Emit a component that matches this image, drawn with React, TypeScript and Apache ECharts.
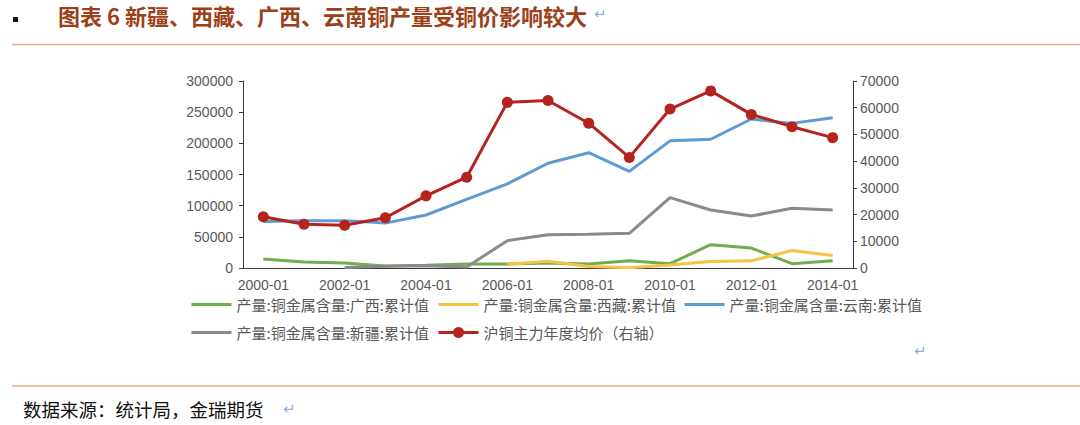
import React, { useEffect, useRef } from 'react'
import * as echarts from 'echarts'

const categories = [
  '2000-01', '2001-01', '2002-01', '2003-01', '2004-01', '2005-01', '2006-01', '2007-01',
  '2008-01', '2009-01', '2010-01', '2011-01', '2012-01', '2013-01', '2014-01',
]

// 产量:铜金属含量 (吨, 左轴)
const guangxi = [14400, 9600, 8000, 3200, 4300, 6400, 6400, 8000, 6400, 11700, 6900, 37400, 32000, 6900, 11700]
const tibet = [null, null, null, null, null, null, 6000, 11000, 2500, 300, 5000, 10500, 11500, 28000, 20000]
const yunnan = [74500, 76000, 76000, 72000, 85000, 110000, 135000, 168000, 185000, 155000, 204000, 206500, 239000, 232000, 241000]
const xinjiang = [null, null, 1000, 2700, 3700, 1600, 43800, 53500, 54000, 55600, 112800, 93000, 83400, 95700, 93000]

// 沪铜主力年度均价 (右轴)
const copperPrice = [19200, 16400, 16000, 18800, 27000, 34000, 62000, 62700, 54200, 41400, 59500, 66300, 57500, 52900, 48800]

const seriesNames = [
  '产量:铜金属含量:广西:累计值',
  '产量:铜金属含量:西藏:累计值',
  '产量:铜金属含量:云南:累计值',
  '产量:铜金属含量:新疆:累计值',
  '沪铜主力年度均价（右轴）',
]

const titleText = '图表 6 新疆、西藏、广西、云南铜产量受铜价影响较大'
const sourceText = '数据来源：统计局，金瑞期货'

const axisColor = '#3a3a3a'
const labelColor = '#595959'
const priceColor = '#B5231D'
const cjk = 'Noto Sans CJK SC'

// one legend component per item so each can sit where the reference puts it
const legendAt = (name: string, left: number, top: number, symbolColor: string | null) => ({
  data: [name],
  left,
  top,
  padding: 0,
  itemWidth: 40,
  itemHeight: 14,
  itemGap: 0,
  itemStyle: symbolColor ? { color: symbolColor } : { opacity: 0 },
  lineStyle: { width: 3 },
  textStyle: { color: labelColor, fontSize: 15, fontFamily: cjk },
})

const lineSeries = (name: string, data: (number | null)[], color: string) => ({
  name,
  type: 'line',
  data,
  yAxisIndex: 0,
  symbol: 'none',
  lineStyle: { color, width: 3 },
  itemStyle: { color },
})

const returnMark = (x: number, y: number) => ({
  type: 'text',
  x,
  y,
  style: { text: '↵', fontSize: 15, fontFamily: 'DejaVu Sans', fill: '#8FB0D8', verticalAlign: 'middle' },
})

const App = () => {
  const chartRef = useRef<HTMLDivElement>(null)

  useEffect(() => {
    if (!chartRef.current) return
    const chart = echarts.init(chartRef.current, null, { renderer: 'svg' })

    const option = {
      animation: false,
      backgroundColor: '#ffffff',
      grid: { left: 243, right: 227, top: 81, bottom: 157, containLabel: false },
      legend: [
        legendAt(seriesNames[0], 190, 297, null),
        legendAt(seriesNames[1], 437, 297, null),
        legendAt(seriesNames[2], 683, 297, null),
        legendAt(seriesNames[3], 190, 325, null),
        legendAt(seriesNames[4], 437, 325, priceColor),
      ],
      xAxis: {
        type: 'category',
        data: categories,
        boundaryGap: true,
        axisLine: { lineStyle: { color: axisColor, width: 1 } },
        axisTick: { interval: 1, length: 5, lineStyle: { color: axisColor } },
        axisLabel: {
          interval: 1,
          margin: 10,
          color: labelColor,
          fontSize: 14,
          fontFamily: 'Liberation Sans',
        },
      },
      yAxis: [
        {
          type: 'value',
          min: 0,
          max: 300000,
          interval: 50000,
          splitLine: { show: false },
          axisLine: { show: true, lineStyle: { color: axisColor, width: 1 } },
          axisTick: { show: true, length: 4, lineStyle: { color: axisColor } },
          axisLabel: {
            margin: 10,
            color: labelColor,
            fontSize: 14,
            fontFamily: 'Liberation Sans',
            formatter: (v: number) => String(v),
          },
        },
        {
          type: 'value',
          min: 0,
          max: 70000,
          interval: 10000,
          position: 'right',
          splitLine: { show: false },
          axisLine: { show: true, lineStyle: { color: axisColor, width: 1 } },
          axisTick: { show: true, length: 4, lineStyle: { color: axisColor } },
          axisLabel: {
            margin: 7,
            color: labelColor,
            fontSize: 14,
            fontFamily: 'Liberation Sans',
            formatter: (v: number) => String(v),
          },
        },
      ],
      series: [
        lineSeries(seriesNames[0], guangxi, '#72AC4D'),
        lineSeries(seriesNames[1], tibet, '#F8C244'),
        lineSeries(seriesNames[2], yunnan, '#5F9BD3'),
        lineSeries(seriesNames[3], xinjiang, '#8A8A8A'),
        {
          name: seriesNames[4],
          type: 'line',
          data: copperPrice,
          yAxisIndex: 1,
          symbol: 'circle',
          symbolSize: 11,
          lineStyle: { color: priceColor, width: 3 },
          itemStyle: { color: priceColor },
        },
      ],
      graphic: [
        { type: 'rect', shape: { x: 13, y: 17, width: 5, height: 5 }, style: { fill: '#111' } },
        {
          type: 'text',
          x: 58,
          y: 15,
          style: {
            text: titleText,
            fontSize: 22,
            fontWeight: 'bold',
            fontFamily: cjk,
            fill: '#9C4019',
            verticalAlign: 'middle',
          },
        },
        returnMark(594, 14),
        {
          type: 'line',
          shape: { x1: 12, y1: 44.5, x2: 1080, y2: 44.5 },
          style: { stroke: '#F2A77C', lineWidth: 1.5 },
        },
        returnMark(914, 351),
        {
          type: 'line',
          shape: { x1: 12, y1: 386, x2: 1080, y2: 386 },
          style: { stroke: '#F2A77C', lineWidth: 1.5 },
        },
        {
          type: 'text',
          x: 23,
          y: 409,
          style: { text: sourceText, fontSize: 18.5, fontFamily: cjk, fill: '#111', verticalAlign: 'middle' },
        },
        returnMark(283, 409),
      ],
    }

    chart.setOption(option)

    return () => {
      chart.dispose()
    }
  }, [])

  return (
    <div
      ref={chartRef}
      style={{ position: 'fixed', left: 0, top: 0, width: 1080, height: 425, background: '#fff' }}
    />
  )
}

export default App
